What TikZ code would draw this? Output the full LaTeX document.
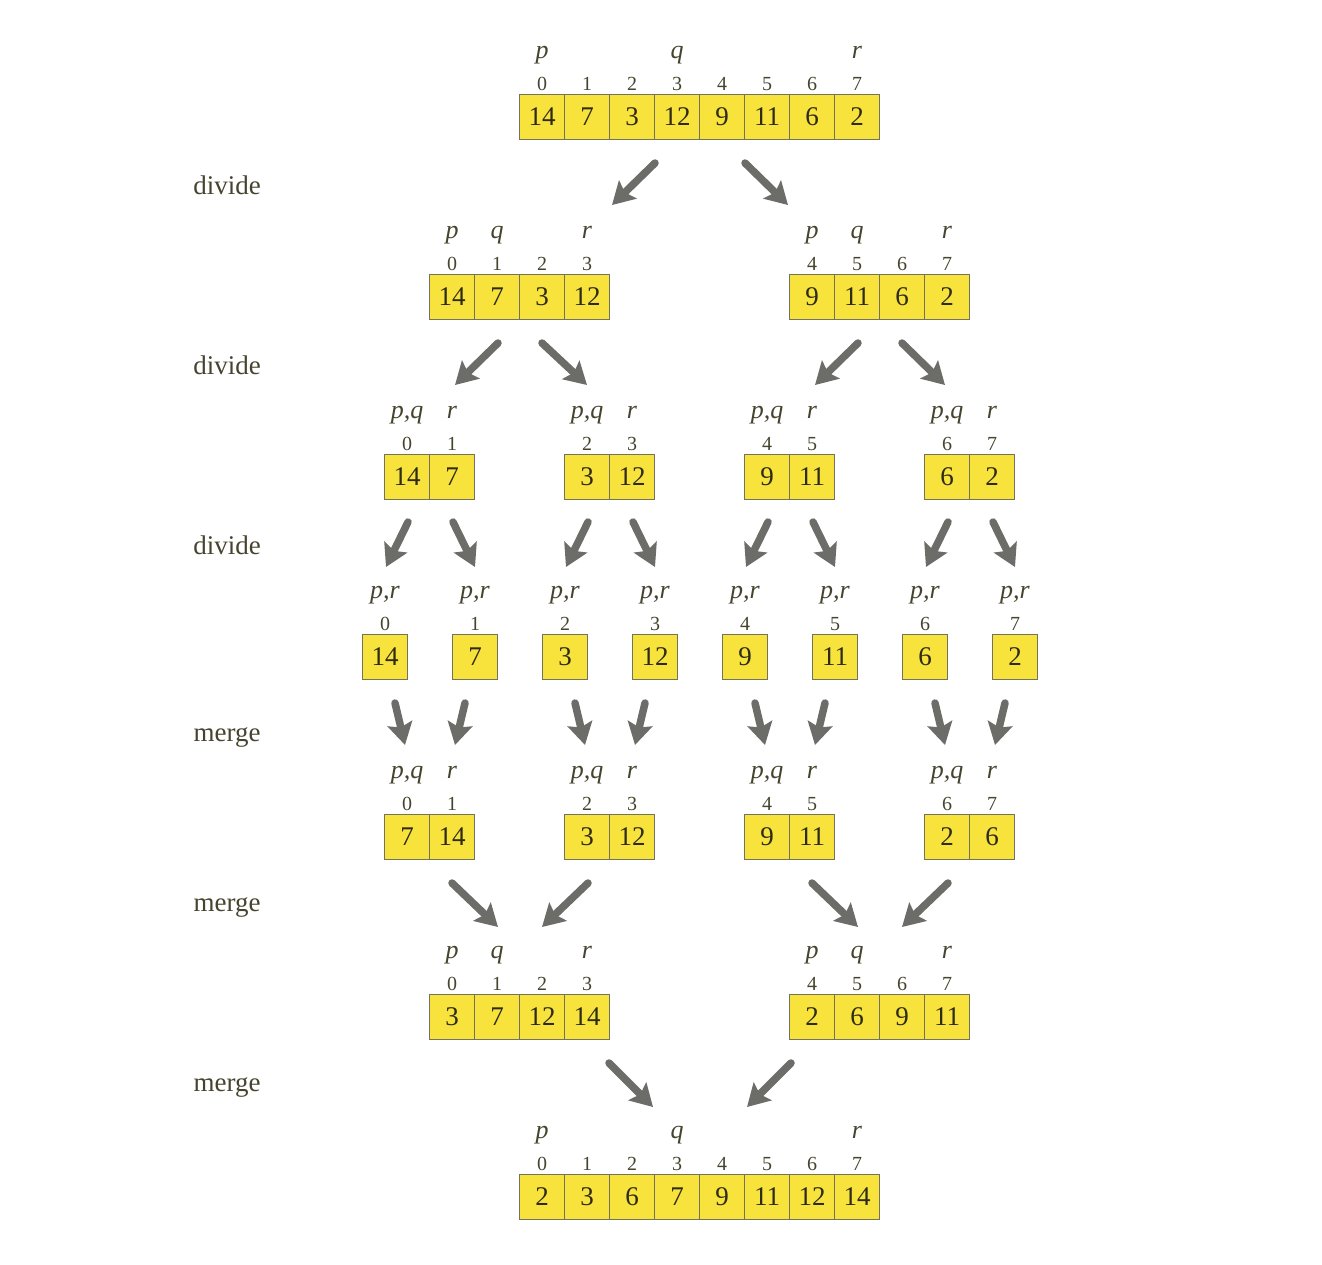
\documentclass[tikz,border=0pt]{standalone}
\usepackage{fontspec}
\setmainfont{Liberation Serif}
\usetikzlibrary{arrows.meta}
\definecolor{cellfill}{HTML}{F8E23C}
\definecolor{celldraw}{HTML}{74725E}
\definecolor{txt}{HTML}{2E2C16}
\definecolor{lbl}{HTML}{46442E}
\definecolor{arrowgray}{HTML}{6C6C68}
\tikzset{
  cell/.style={draw=celldraw, fill=cellfill, line width=1.4pt, minimum width=45pt,
    minimum height=45pt, inner sep=0pt, font=\fontsize{27}{27}\selectfont, text=txt},
  idx/.style={font=\fontsize{20}{20}\selectfont, text=lbl, anchor=base, inner sep=0pt},
  ptr/.style={font=\fontsize{26}{26}\selectfont\itshape, text=lbl, anchor=base, inner sep=0pt},
  phase/.style={font=\fontsize{27}{27}\selectfont, text=lbl, inner sep=0pt},
  bigarrow/.style={draw=arrowgray, line width=7.5pt, line cap=round,
    -{Stealth[width=25pt,length=22pt,inset=4pt]}, arrowgray}
}
% #1 name, #2 x of first cell centre, #3 y centre, #4 list index/value
\newcommand\drawarr[4]{%
  \foreach \kk/\vv [count=\ii from 0] in {#4} {%
    \node[cell] (#1-\ii) at ({#2+45*\ii},{#3}) {\vv};
    \node[idx] (#1-i\ii) at ({#2+45*\ii},{#3-27}) {\kk};
  }%
}
% #1 name, #2 x, #3 y centre of array, #4 text
\newcommand\ptrlbl[4]{\node[ptr] (#1) at ({#2},{#3-59}) {#4};}
% #1 name, x1 y1 x2 y2
\newcommand\bigarr[5]{%
  \coordinate (#1s) at (#2,#3);
  \coordinate (#1e) at (#4,#5);
  \draw[bigarrow] (#1s) -- (#1e);
}
\begin{document}
\begin{tikzpicture}[x=1pt,y=-1pt]
\useasboundingbox (0,0) rectangle (1322,1264);

% level 0
\drawarr{A}{542}{117}{0/14,1/7,2/3,3/12,4/9,5/11,6/6,7/2}
\ptrlbl{Ap}{542}{117}{p}\ptrlbl{Aq}{677}{117}{q}\ptrlbl{Ar}{857}{117}{r}

% level 1
\drawarr{B}{452}{297}{0/14,1/7,2/3,3/12}
\ptrlbl{Bp}{452}{297}{p}\ptrlbl{Bq}{497}{297}{q}\ptrlbl{Br}{587}{297}{r}
\drawarr{C}{812}{297}{4/9,5/11,6/6,7/2}
\ptrlbl{Cp}{812}{297}{p}\ptrlbl{Cq}{857}{297}{q}\ptrlbl{Cr}{947}{297}{r}

% level 2
\drawarr{D1}{407}{477}{0/14,1/7}
\drawarr{D2}{587}{477}{2/3,3/12}
\drawarr{D3}{767}{477}{4/9,5/11}
\drawarr{D4}{947}{477}{6/6,7/2}
\foreach \x [count=\n] in {407,587,767,947} {
  \ptrlbl{Dpq\n}{\x}{477}{p,q}
  \ptrlbl{Dr\n}{\x+45}{477}{r}
}

% level 3
\drawarr{E1}{385}{657}{0/14}\ptrlbl{Epr1}{385}{657}{p,r}
\drawarr{E2}{475}{657}{1/7}\ptrlbl{Epr2}{475}{657}{p,r}
\drawarr{E3}{565}{657}{2/3}\ptrlbl{Epr3}{565}{657}{p,r}
\drawarr{E4}{655}{657}{3/12}\ptrlbl{Epr4}{655}{657}{p,r}
\drawarr{E5}{745}{657}{4/9}\ptrlbl{Epr5}{745}{657}{p,r}
\drawarr{E6}{835}{657}{5/11}\ptrlbl{Epr6}{835}{657}{p,r}
\drawarr{E7}{925}{657}{6/6}\ptrlbl{Epr7}{925}{657}{p,r}
\drawarr{E8}{1015}{657}{7/2}\ptrlbl{Epr8}{1015}{657}{p,r}

% level 4
\drawarr{F1}{407}{837}{0/7,1/14}
\drawarr{F2}{587}{837}{2/3,3/12}
\drawarr{F3}{767}{837}{4/9,5/11}
\drawarr{F4}{947}{837}{6/2,7/6}
\foreach \x [count=\n] in {407,587,767,947} {
  \ptrlbl{Fpq\n}{\x}{837}{p,q}
  \ptrlbl{Fr\n}{\x+45}{837}{r}
}

% level 5
\drawarr{G}{452}{1017}{0/3,1/7,2/12,3/14}
\ptrlbl{Gp}{452}{1017}{p}\ptrlbl{Gq}{497}{1017}{q}\ptrlbl{Gr}{587}{1017}{r}
\drawarr{H}{812}{1017}{4/2,5/6,6/9,7/11}
\ptrlbl{Hp}{812}{1017}{p}\ptrlbl{Hq}{857}{1017}{q}\ptrlbl{Hr}{947}{1017}{r}

% level 6
\drawarr{K}{542}{1197}{0/2,1/3,2/6,3/7,4/9,5/11,6/12,7/14}
\ptrlbl{Kp}{542}{1197}{p}\ptrlbl{Kq}{677}{1197}{q}\ptrlbl{Kr}{857}{1197}{r}

% phase labels
\node[phase] (d1) at (227,185) {divide};
\node[phase] (d2) at (227,365) {divide};
\node[phase] (d3) at (227,545) {divide};
\node[phase] (m1) at (227,737) {merge};
\node[phase] (m2) at (227,907) {merge};
\node[phase] (m3) at (227,1087) {merge};

% arrows
\bigarr{a1}{655}{163}{612}{205}
\bigarr{a2}{745}{163}{788}{205}
\bigarr{b1}{498}{343}{455}{385}
\bigarr{b2}{542}{343}{587}{385}
\bigarr{b3}{858}{343}{815}{385}
\bigarr{b4}{902}{343}{945}{385}
\foreach \c [count=\n] in {430,610,790,970} {
  \bigarr{cl\n}{\c-22}{522}{\c-44}{567}
  \bigarr{cr\n}{\c+23}{522}{\c+45}{567}
  \bigarr{el\n}{\c-35}{703}{\c-25}{745}
  \bigarr{er\n}{\c+35}{703}{\c+25}{745}
}
\foreach \t [count=\n] in {520,880} {
  \bigarr{fl\n}{\t-68}{883}{\t-22}{927}
  \bigarr{fr\n}{\t+68}{883}{\t+22}{927}
}
\bigarr{g1}{609}{1063}{653}{1107}
\bigarr{g2}{791}{1063}{747}{1107}
\end{tikzpicture}
\end{document}
